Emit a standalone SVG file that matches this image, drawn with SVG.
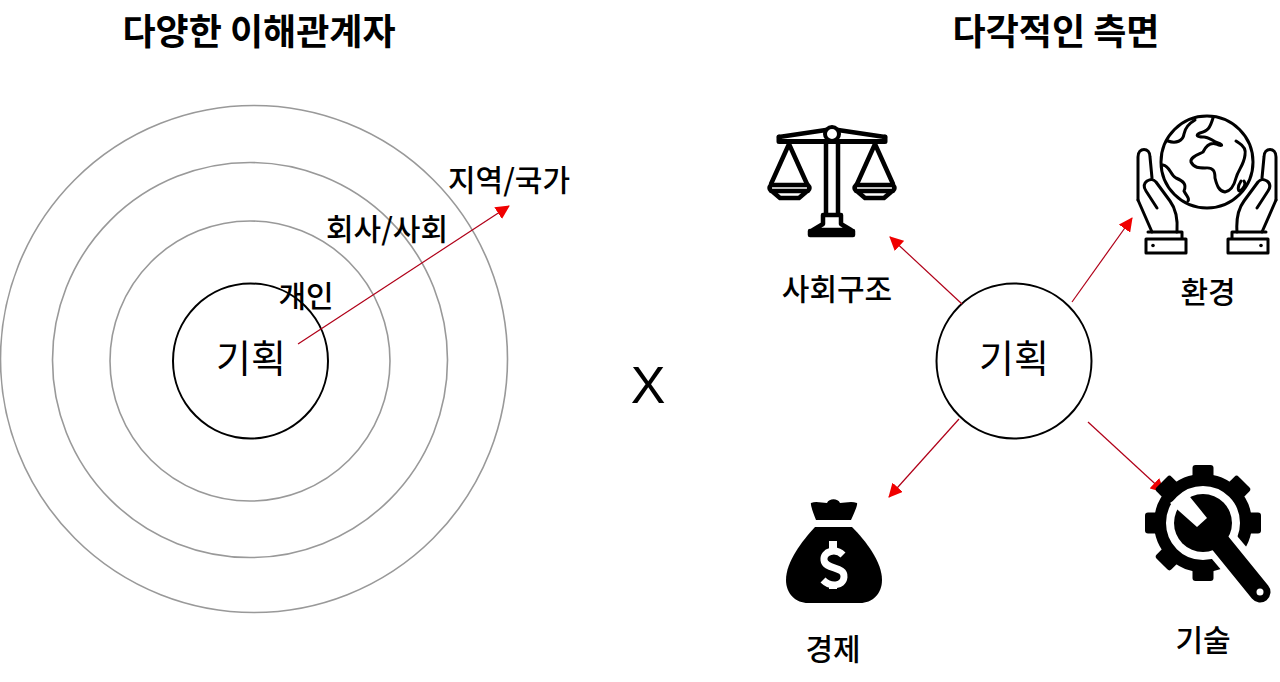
<svg xmlns="http://www.w3.org/2000/svg" width="1280" height="682" viewBox="0 0 1280 682">
<style>
text{font-family:"Noto Sans CJK KR","Noto Sans",sans-serif;fill:#000;text-anchor:middle}
.title{font-size:36px;font-weight:700}
.label{font-size:30px;font-weight:500}
.core{font-size:38px;font-weight:400}
.ring{fill:none;stroke:#999;stroke-width:1.600}
.hub{fill:none;stroke:#000;stroke-width:2}
.conn{stroke:#b00018;stroke-width:1.200;fill:none;marker-end:url(#arrow)}
.o{fill:none;stroke:#000;stroke-linejoin:round;stroke-linecap:round}
</style>
<defs>
<marker id="arrow" viewBox="0 0 14 14" refX="13" refY="7" markerWidth="14" markerHeight="14" markerUnits="userSpaceOnUse" orient="auto"><path d="M0 0L14 7L0 14Z" fill="#f00000"/></marker>
<rect id="tooth" x="-10.500" y="-58" width="21" height="20" rx="3" fill="#000"/>
</defs>
<rect width="1280" height="682" fill="#fff"/>
<text class="title" x="259" y="45">다양한 이해관계자</text>
<text class="title" x="1056" y="45">다각적인 측면</text>
<g id="ring-region"><circle class="ring" cx="254" cy="359" r="253.500"/></g>
<g id="ring-company"><circle class="ring" cx="250" cy="360" r="197.500"/></g>
<g id="ring-person"><circle class="ring" cx="250" cy="361" r="140"/></g>
<g id="hub-left"><circle class="hub" cx="250.500" cy="361" r="77.500"/><text class="core" x="251" y="372">기획</text></g>
<g id="label-person"><text class="label" x="306" y="307">개인</text></g>
<g id="label-company"><text class="label" x="387" y="240">회사/사회</text></g>
<g id="label-region"><text class="label" x="509" y="191">지역/국가</text></g>
<g id="cross"><text x="648" y="403" style="font-family:'Liberation Sans',sans-serif;font-size:52px">X</text></g>
<g id="hub-right"><circle class="hub" cx="1014" cy="361" r="77.500"/><text class="core" x="1014" y="372">기획</text></g>
<g id="connectors">
<path class="conn" d="M298 344L509 206"/>
<path class="conn" d="M962 304L890 237"/>
<path class="conn" d="M1072 302L1132 218"/>
<path class="conn" d="M959 419L889 497"/>
<path class="conn" d="M1088 422L1164 492"/>
</g>
<g id="society">
<g class="o" stroke-width="4.500">
<path d="M779 137L826 130M838 130L885 137"/>
<path d="M779 141.500H885M779 137V141.500M885 137V141.500" stroke-width="5"/>
<path d="M826 141V214M838 141V214"/>
<path d="M789 144L771 184M789 144L807 184M875 144L857 184M875 144L893 184"/>
<path d="M771 185H808Q811 188 808 191H771Q768 188 771 185Z"/>
<path d="M856 185H893Q896 188 893 191H856Q853 188 856 185Z"/>
<path d="M773 192L780 198H799L806 192M858 192L865 198H884L891 192"/>
<path d="M823 215H841V224L851 230H813L823 224Z"/>
<path d="M810 231H853V235H810Z"/>
</g>
<circle cx="832" cy="134" r="7" fill="#fff" stroke="#000" stroke-width="4"/>
<text class="label" x="837" y="300">사회구조</text>
</g>
<g id="environment">
<g class="o" stroke-width="3">
<circle cx="1207" cy="162" r="46"/>
<path d="M1195 120C1188 124 1185 128 1184 134C1183 141 1176 144 1168 141"/>
<path d="M1213 118C1210 128 1208 131 1200 133C1195 135 1197 137 1203 137C1208 136 1212 141 1218 143C1224 145 1222 147 1216 144C1209 142 1205 148 1203 152C1197 155 1190 157 1191 162C1194 168 1199 168 1205 168C1214 167 1215 172 1215 178C1217 186 1219 191 1225 192C1231 191 1234 186 1236 178C1238 170 1244 165 1245 155C1246 150 1244 146 1239 143L1236 141"/>
<path d="M1163 165C1170 166 1170 175 1176 178C1183 181 1187 184 1184 191C1187 197 1190 198 1188 201"/>
<path d="M1241 181C1237 187 1238 191 1240 191C1244 188 1246 184 1244 181"/>
</g>
<g class="o" stroke-width="3">
<path d="M1138 200V157C1138 147 1150 147 1150 157L1152 178"/>
<path d="M1138 200L1152 232M1147 181C1151 179 1153 179 1156 182L1170 201C1176 209 1178 218 1177 232M1147 181C1143 184 1144 188 1146 191L1157 208"/>
<path d="M1148 232H1182V239H1146V253H1186V239H1182"/>
</g>
<g class="o" stroke-width="3">
<path d="M1276 200V157C1276 147 1264 147 1264 157L1262 178"/>
<path d="M1276 200L1262 232M1267 181C1263 179 1261 179 1258 182L1244 201C1238 209 1236 218 1237 232M1267 181C1271 184 1270 188 1268 191L1257 208"/>
<path d="M1266 232H1232V239H1268V253H1228V239H1232"/>
</g>
<circle cx="1153" cy="245.500" r="1.800"/><circle cx="1261" cy="245.500" r="1.800"/>
<text class="label" x="1208" y="303">환경</text>
</g>
<g id="economy">
<path d="M811 503C816 501 822 503 827 503C829 498 838 498 840 503C845 503 851 501 857 503Q858 505 851 520H816Q810 505 811 503Z" fill="#000"/>
<path d="M815 527H852C866 541 882 562 882 580C882 594 872 603 860 603H808C796 603 786 594 786 580C786 562 802 541 815 527Z" fill="#000"/>
<path d="M843 555C836 548 823 551 824 560C825 570 845 566 844 577C843 587 830 587 823 580" fill="none" stroke="#fff" stroke-width="7"/>
<path d="M833 541V551M833 582V589" stroke="#fff" stroke-width="8" fill="none"/>
<text class="label" x="833" y="660">경제</text>
</g>
<g id="technology">
<g transform="translate(1203 523)">
<use href="#tooth"/>
<use href="#tooth" transform="rotate(45)"/>
<use href="#tooth" transform="rotate(90)"/>
<use href="#tooth" transform="rotate(180)"/>
<use href="#tooth" transform="rotate(225)"/>
<use href="#tooth" transform="rotate(270)"/>
<use href="#tooth" transform="rotate(315)"/>
<circle r="43" fill="none" stroke="#000" stroke-width="12"/>
<path d="M5 5L60 70" stroke="#fff" stroke-width="34"/>
<circle r="29" fill="#000"/>
<path d="M5 5L57 69" stroke="#000" stroke-width="21" stroke-linecap="round"/>
</g>
<path d="M1170 503L1197 527L1207 518L1186 492Z" fill="#fff"/>
<circle cx="1260" cy="592" r="3.500" fill="#fff"/>
<text class="label" x="1203" y="651">기술</text>
</g>
</svg>
